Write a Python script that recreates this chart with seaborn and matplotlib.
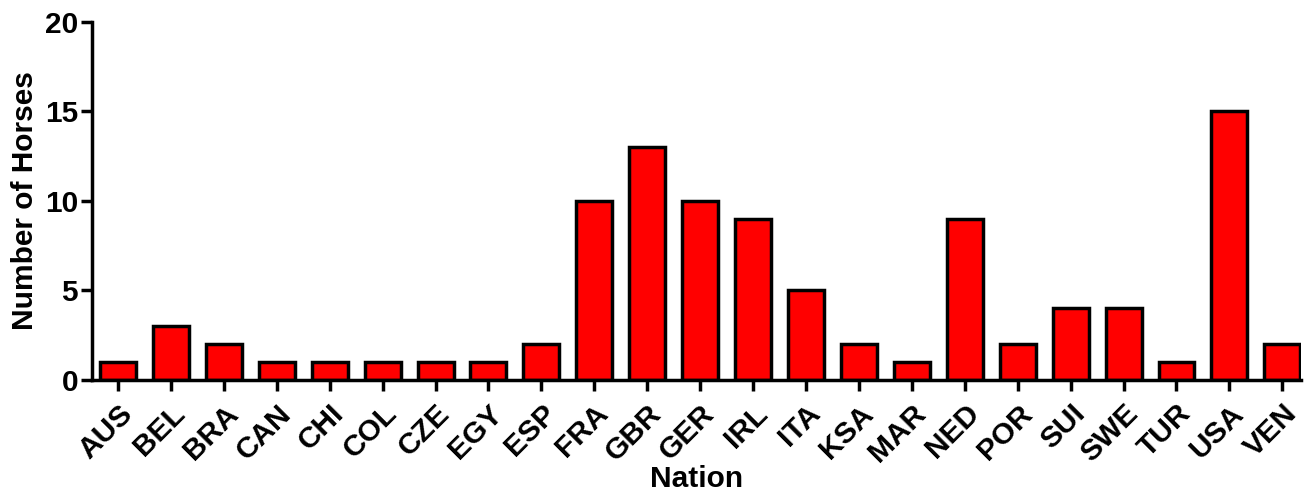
import matplotlib
matplotlib.use("Agg")
import matplotlib.pyplot as plt
import seaborn as sns
import pandas as pd

nations = ["AUS", "BEL", "BRA", "CAN", "CHI", "COL", "CZE", "EGY", "ESP", "FRA",
           "GBR", "GER", "IRL", "ITA", "KSA", "MAR", "NED", "POR", "SUI", "SWE",
           "TUR", "USA", "VEN"]
horses = [1, 3, 2, 1, 1, 1, 1, 1, 2, 10, 13, 10, 9, 5, 2, 1, 9, 2, 4, 4, 1, 15, 2]
y_ticks = [0, 5, 10, 15, 20]

sns.set_theme(style="ticks")
plt.rcParams['font.family'] = ['Liberation Sans', 'DejaVu Sans']
plt.rcParams['font.weight'] = 'bold'
plt.rcParams['text.color'] = 'black'
plt.rcParams['axes.labelcolor'] = 'black'
plt.rcParams['xtick.color'] = 'black'
plt.rcParams['ytick.color'] = 'black'

df = pd.DataFrame({"Nation": nations, "Horses": horses})

fig = plt.figure(figsize=(13.04, 4.96), dpi=100)
ax = fig.add_axes([0.0706, 0.234, 0.927, 0.722])

sns.barplot(data=df, x="Nation", y="Horses", color="#ff0000", saturation=1,
            width=0.68, edgecolor="black", linewidth=2.5, ax=ax)

fs = 21.5
ax.set_ylim(0, 20)
ax.set_xlim(-0.49, 22.35)
ax.set_yticks(y_ticks)
ax.set_yticklabels([str(t) for t in y_ticks], fontsize=fs, fontweight='bold', color='black')
ax.set_xticks(range(len(nations)))
ax.set_xticklabels(nations, rotation=45, ha='right', rotation_mode='anchor',
                   fontsize=fs, fontweight='bold', color='black')
ax.set_xlabel("Nation", fontsize=fs, fontweight='bold', labelpad=-2, color='black')
ax.set_ylabel("Number of Horses", fontsize=fs, fontweight='bold', labelpad=4, color='black')

for s in ["top", "right"]:
    ax.spines[s].set_visible(False)
for s in ["left", "bottom"]:
    ax.spines[s].set_linewidth(2.5)
    ax.spines[s].set_color("black")
ax.tick_params(axis='both', width=2.5, length=8, color='black', direction='out')
ax.tick_params(axis='x', pad=6)
ax.tick_params(axis='y', pad=2)

fig.savefig("out.png", dpi=100)
